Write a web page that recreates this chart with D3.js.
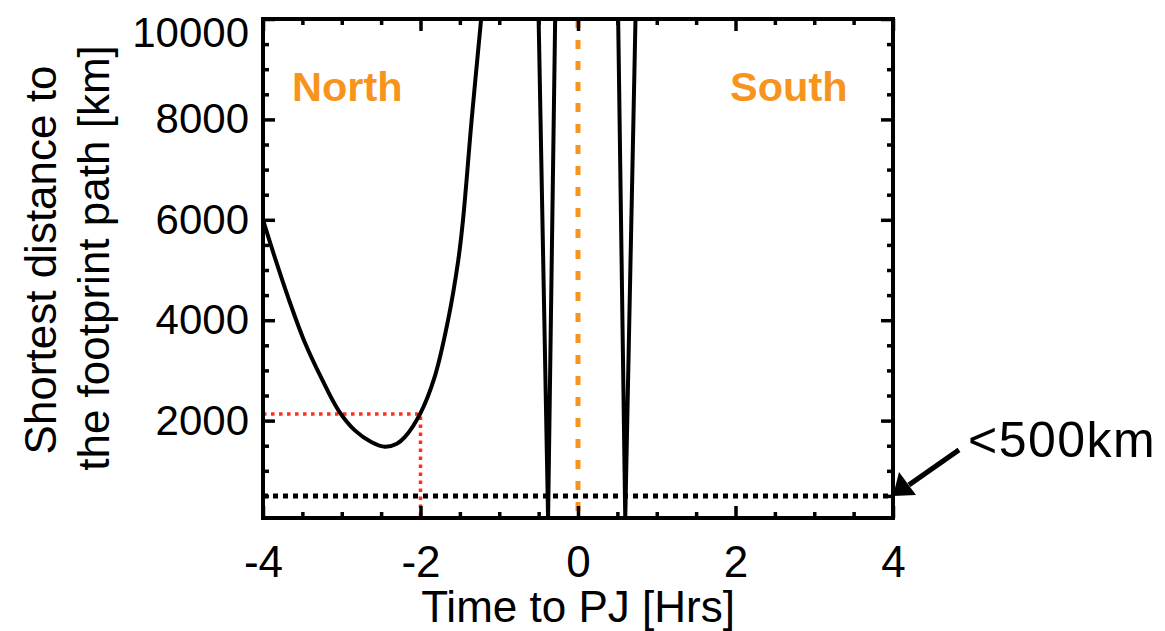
<!DOCTYPE html>
<meta charset="utf-8">
<style>
  body { margin: 0; background: #fff; }
  text { font-family: "Liberation Sans", Arial, Helvetica, sans-serif; fill: #000; }
</style>
<svg id="mysvg" width="1165" height="631"></svg>
<script src="https://cdn.jsdelivr.net/npm/d3@7"></script>
<script>

// data
var northTime = [-4.0, -3.85, -3.68, -3.47, -3.25, -3.04, -2.83, -2.62, -2.45, -2.30, -2.20, -2.0, -1.82, -1.65, -1.52, -1.46, -1.35, -1.23];
var northDist = [6000, 5250, 4450, 3560, 2820, 2200, 1800, 1570, 1480, 1540, 1670, 2150, 2870, 4000, 5200, 6000, 8000, 10000];
var dip1Time = [-0.50, -0.38, -0.29];
var dip1Dist = [10000, 60, 10000];
var dip2Time = [0.51, 0.60, 0.73];
var dip2Dist = [10000, 60, 10000];

var xTicks = [-4, -2, 0, 2, 4];
var yTicks = [2000, 4000, 6000, 8000, 10000];
var threshold = 500;       // <500km line
var markTime = -2;         // red marker
var markDist = 2130;
var pjTime = 0;

var svg = d3.select("#mysvg");
var pLeft = 263, pRight = 893, pTop = 19, pBottom = 518;

var x = d3.scaleLinear().domain([-4, 4]).range([pLeft, pRight]);
var y = d3.scaleLinear().domain([60, 10000]).range([pBottom, pTop]);

var xMinor = d3.range(-4, 4.01, 0.5).filter(function(d){ return xTicks.indexOf(d) < 0; });
var yMinor = d3.range(500, 10000, 500).filter(function(d){ return yTicks.indexOf(d) < 0; });

svg.append("clipPath").attr("id", "clip")
	.append("rect").attr("x", pLeft).attr("y", pTop)
	.attr("width", pRight - pLeft).attr("height", pBottom - pTop);

var plot = svg.append("g").attr("clip-path", "url(#clip)");

function pts(t, d){ return t.map(function(v, i){ return [v, d[i]]; }); }

var smooth = d3.line().x(function(d){ return x(d[0]); }).y(function(d){ return y(d[1]); })
	.curve(d3.curveCatmullRom);
var straight = d3.line().x(function(d){ return x(d[0]); }).y(function(d){ return y(d[1]); });

// red dotted marker
plot.append("path")
	.attr("d", straight([[-4, markDist], [markTime, markDist], [markTime, 60]]))
	.attr("fill", "none").attr("stroke", "#ff2d1a").attr("stroke-width", 3.5)
	.attr("stroke-dasharray", "3.5,4.5");

// threshold
plot.append("line")
	.attr("x1", x(-4)).attr("x2", x(4))
	.attr("y1", y(threshold)).attr("y2", y(threshold))
	.attr("stroke", "#000").attr("stroke-width", 5).attr("stroke-dasharray", "5,5");

plot.append("path").attr("d", smooth(pts(northTime, northDist)))
	.attr("fill", "none").attr("stroke", "#000").attr("stroke-width", 4);
[pts(dip1Time, dip1Dist), pts(dip2Time, dip2Dist)].forEach(function(p){
	plot.append("path").attr("d", straight(p))
		.attr("fill", "none").attr("stroke", "#000").attr("stroke-width", 4)
		.attr("stroke-linejoin", "miter");
});

// PJ line
plot.append("line")
	.attr("x1", x(pjTime)).attr("x2", x(pjTime))
	.attr("y1", pTop).attr("y2", pBottom)
	.attr("stroke", "#f7941d").attr("stroke-width", 5).attr("stroke-dasharray", "9,12");

// axes with inward ticks on all four sides
function styleAxis(g){
	g.select(".domain").remove();
	g.selectAll(".tick line").attr("stroke", "#000").attr("stroke-width", 3.5);
}

svg.append("g").attr("transform", "translate(0," + pBottom + ")")
	.call(d3.axisBottom(x).tickValues(xTicks).tickSize(-12).tickPadding(28)
		.tickFormat(function(d){ return String(d); }))
	.call(styleAxis)
	.selectAll("text").attr("font-size", 44).attr("fill", "#000")
	.style("font-family", "'Liberation Sans', Arial, sans-serif");
svg.append("g").attr("transform", "translate(0," + pBottom + ")")
	.call(d3.axisBottom(x).tickValues(xMinor).tickSize(-6).tickFormat(""))
	.call(styleAxis);
svg.append("g").attr("transform", "translate(0," + pTop + ")")
	.call(d3.axisTop(x).tickValues(xTicks).tickSize(-12).tickFormat(""))
	.call(styleAxis);
svg.append("g").attr("transform", "translate(0," + pTop + ")")
	.call(d3.axisTop(x).tickValues(xMinor).tickSize(-6).tickFormat(""))
	.call(styleAxis);

var yAx = svg.append("g").attr("transform", "translate(" + pLeft + ",0)")
	.call(d3.axisLeft(y).tickValues(yTicks).tickSize(-12).tickPadding(14)
		.tickFormat(d3.format("d")))
	.call(styleAxis);
yAx.selectAll("text").attr("font-size", 42).attr("fill", "#000")
	.style("font-family", "'Liberation Sans', Arial, sans-serif")
	.attr("dy", function(d){ return d === 10000 ? "0.65em" : "0.32em"; });
svg.append("g").attr("transform", "translate(" + pLeft + ",0)")
	.call(d3.axisLeft(y).tickValues(yMinor).tickSize(-6).tickFormat(""))
	.call(styleAxis);
svg.append("g").attr("transform", "translate(" + pRight + ",0)")
	.call(d3.axisRight(y).tickValues(yTicks).tickSize(-12).tickFormat(""))
	.call(styleAxis);
svg.append("g").attr("transform", "translate(" + pRight + ",0)")
	.call(d3.axisRight(y).tickValues(yMinor).tickSize(-6).tickFormat(""))
	.call(styleAxis);

// frame
svg.append("rect").attr("x", pLeft).attr("y", pTop)
	.attr("width", pRight - pLeft).attr("height", pBottom - pTop)
	.attr("fill", "none").attr("stroke", "#000").attr("stroke-width", 4);

// titles
svg.append("text").attr("x", (pLeft + pRight) / 2).attr("y", 622)
	.attr("text-anchor", "middle").attr("font-size", 44)
	.text("Time to PJ [Hrs]");

svg.append("text").attr("transform", "translate(56,260) rotate(-90)")
	.attr("text-anchor", "middle").attr("font-size", 44)
	.text("Shortest distance to");
svg.append("text").attr("transform", "translate(109,258) rotate(-90)")
	.attr("text-anchor", "middle").attr("font-size", 44)
	.text("the footprint path [km]");

svg.append("text").attr("x", 292).attr("y", 101)
	.attr("font-size", 41.5).attr("font-weight", "bold").style("fill", "#f7941d")
	.text("North");
svg.append("text").attr("x", 730).attr("y", 101)
	.attr("font-size", 41.5).attr("font-weight", "bold").style("fill", "#f7941d")
	.text("South");

// annotation arrow
var tipX = x(4), tipY = y(threshold);
svg.append("line")
	.attr("x1", tipX + 66).attr("y1", tipY - 46)
	.attr("x2", tipX + 16).attr("y2", tipY - 11)
	.attr("stroke", "#000").attr("stroke-width", 5);
svg.append("path")
	.attr("d", "M" + tipX + "," + tipY + "L" + (tipX + 6) + "," + (tipY - 24) +
		"L" + (tipX + 23) + "," + (tipY - 1) + "Z")
	.attr("fill", "#000");

svg.append("text").attr("x", 968).attr("y", 457)
	.attr("font-size", 50).attr("letter-spacing", 1.5)
	.text("<500km");

</script>
